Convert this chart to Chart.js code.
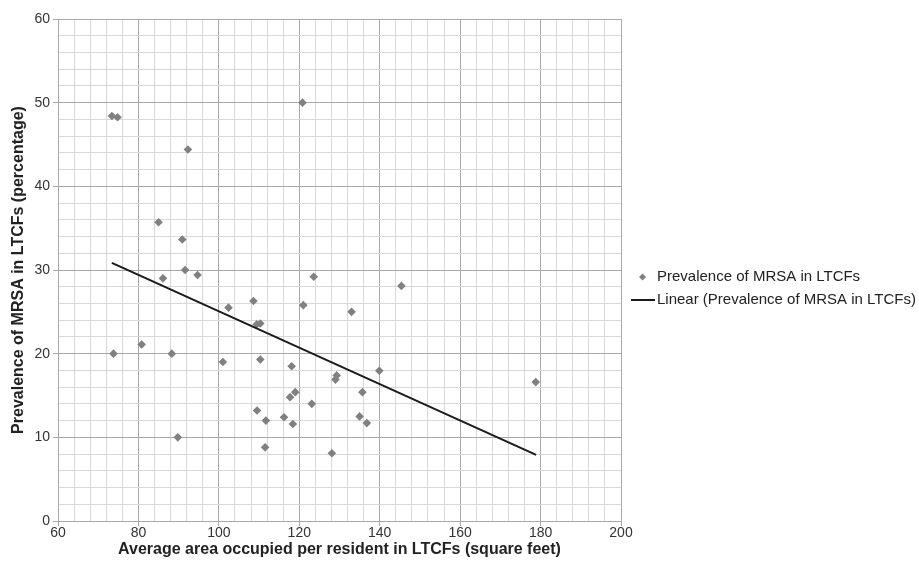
<!DOCTYPE html>
<html>
<head>
<meta charset="utf-8">
<script src="https://cdn.jsdelivr.net/npm/chart.js@4/dist/chart.umd.min.js"></script>
<style>
  html, body { margin: 0; padding: 0; background: #fff; }
  #wrap { width: 919px; height: 564px; }
</style>
</head>
<body>
<div id="wrap"><canvas id="c" width="919" height="564"></canvas></div>
<script>
// Average area per resident (sq ft) for each LTCF
const areaValues = [73.4, 74.8, 92.3, 120.8, 85.0, 90.9, 91.6, 94.7, 86.1, 123.6,
  73.8, 80.8, 88.3, 89.8, 101.0, 102.4, 108.6, 109.4, 110.3, 110.3,
  109.5, 111.7, 111.5, 116.2, 118.1, 117.7, 119.0, 118.4, 123.1, 121.0,
  145.4, 133.0, 139.9, 129.3, 129.0, 135.7, 135.0, 136.8, 128.1, 178.8];
// MRSA prevalence (%) for each LTCF
const mrsaValues = [48.4, 48.25, 44.4, 50.0, 35.7, 33.65, 30.0, 29.4, 29.0, 29.2,
  20.0, 21.1, 20.0, 10.0, 19.0, 25.5, 26.3, 23.5, 23.6, 19.3,
  13.2, 12.0, 8.8, 12.4, 18.5, 14.8, 15.4, 11.6, 14.0, 25.8,
  28.1, 25.0, 17.95, 17.4, 16.9, 15.4, 12.5, 11.7, 8.1, 16.6];
// Linear trend line endpoints
const trendX = [73.4, 178.9];
const trendY = [30.86, 7.9];

const seriesLabel = 'Prevalence of MRSA in LTCFs';
const trendLabel = 'Linear (Prevalence of MRSA in LTCFs)';
const xTitle = 'Average area occupied per resident in LTCFs (square feet)';
const yTitle = 'Prevalence of MRSA in LTCFs (percentage)';

const FONT = "'Liberation Sans', Arial, Helvetica, sans-serif";
const MAJOR = '#a9a9a9';
const MINOR = '#d9d9d9';
const POINT = '#808080';

const legendPlugin = {
  id: 'customLegend',
  afterDraw(chart) {
    const ctx = chart.ctx;
    const ds = chart.data.datasets;
    ctx.save();
    ctx.font = '15px ' + FONT;
    ctx.textBaseline = 'middle';
    const y1 = 277, y2 = 300;
    // item 1: diamond marker
    ctx.fillStyle = POINT;
    ctx.beginPath();
    ctx.moveTo(642.5, y1 - 3.5);
    ctx.lineTo(646, y1);
    ctx.lineTo(642.5, y1 + 3.5);
    ctx.lineTo(639, y1);
    ctx.closePath();
    ctx.fill();
    ctx.fillStyle = '#222';
    ctx.fillText(ds[0].label, 657, y1);
    // item 2: line
    ctx.strokeStyle = '#1a1a1a';
    ctx.lineWidth = 2;
    ctx.beginPath();
    ctx.moveTo(631, y2);
    ctx.lineTo(655, y2);
    ctx.stroke();
    ctx.fillText(ds[1].label, 657, y2);
    ctx.restore();
  }
};

new Chart(document.getElementById('c'), {
  type: 'scatter',
  data: {
    datasets: [
      {
        label: seriesLabel,
        data: areaValues.map((x, i) => ({ x: x, y: mrsaValues[i] })),
        pointStyle: 'rectRot',
        pointRadius: 4.3,
        pointHoverRadius: 4.3,
        backgroundColor: POINT,
        borderColor: POINT,
        borderWidth: 0,
        order: 2
      },
      {
        label: trendLabel,
        type: 'line',
        data: trendX.map((x, i) => ({ x: x, y: trendY[i] })),
        borderColor: '#1a1a1a',
        borderWidth: 2,
        pointRadius: 0,
        fill: false,
        order: 1
      }
    ]
  },
  options: {
    responsive: false,
    animation: false,
    devicePixelRatio: 1,
    layout: { padding: { top: 19, right: 298, left: 0, bottom: 0 } },
    plugins: {
      legend: { display: false },
      tooltip: { enabled: false }
    },
    scales: {
      x: {
        type: 'linear',
        min: 60, max: 200,
        afterFit(s) { s.height = 43; },
        ticks: {
          stepSize: 4,
          autoSkip: false,
          maxRotation: 0,
          padding: -1,
          color: '#333',
          font: { family: FONT, size: 14 },
          callback: v => (v % 20 === 0 ? String(v) : '')
        },
        grid: {
          color: c => (c.tick && c.tick.value % 20 === 0 ? MAJOR : MINOR),
          tickColor: c => (c.tick && c.tick.value % 20 === 0 ? MAJOR : 'rgba(0,0,0,0)'),
          tickLength: 5,
          lineWidth: 1
        },
        border: { color: MAJOR, width: 1 },
        title: {
          display: true,
          text: xTitle,
          color: '#222',
          font: { family: FONT, size: 16, weight: 'bold' },
          padding: { top: 0, bottom: 5 }
        }
      },
      y: {
        type: 'linear',
        min: 0, max: 60,
        afterFit(s) { s.width = 58; },
        ticks: {
          stepSize: 2,
          autoSkip: false,
          padding: 3,
          color: '#333',
          font: { family: FONT, size: 14 },
          callback: v => (v % 10 === 0 ? String(v) : '')
        },
        grid: {
          color: c => (c.tick && c.tick.value % 10 === 0 ? MAJOR : MINOR),
          tickColor: c => (c.tick && c.tick.value % 10 === 0 ? MAJOR : 'rgba(0,0,0,0)'),
          tickLength: 5,
          lineWidth: 1
        },
        border: { color: MAJOR, width: 1 },
        title: {
          display: true,
          text: yTitle,
          color: '#222',
          font: { family: FONT, size: 16, weight: 'bold' },
          padding: { top: 9, bottom: 0 }
        }
      }
    }
  },
  plugins: [legendPlugin]
});
</script>
</body>
</html>
